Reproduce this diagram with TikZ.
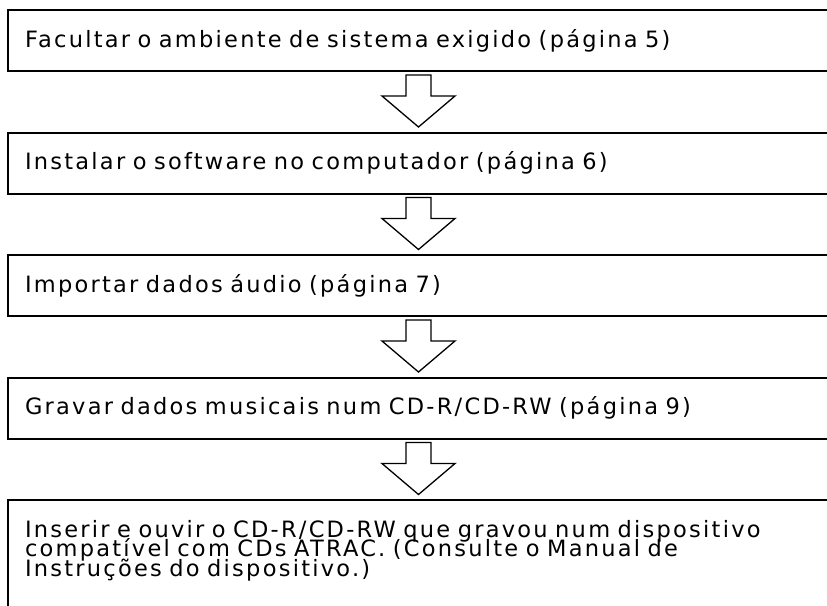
\documentclass[tikz,border=0pt]{standalone}
\usepackage{fontspec}
\setmainfont[LetterSpace=10]{DejaVu Sans}
\setlength{\lineskiplimit}{-50pt}
\newcommand{\boxfont}{\fontsize{22.5}{19.5}\selectfont}
\begin{document}
\begin{tikzpicture}[x=1pt,y=-1pt,
  boxstyle/.style={draw, line width=2pt, rectangle, anchor=north west,
    minimum width=833pt, minimum height=61pt, text width=799pt,
    inner xsep=17pt, inner ysep=0pt, align=left, font=\boxfont,
    execute at begin node={\setlength{\lineskiplimit}{-50pt}}},
  blockarrow/.pic={\draw[line width=1.3pt, line join=miter]
    (-12.5,3) -- (12.5,3) -- (12.5,24) -- (36.5,24) -- (0,55)
    -- (-36.5,24) -- (-12.5,24) -- cycle;}]
\path[use as bounding box] (0,0) rectangle (827,605);
\clip (0,0) rectangle (827,605);
\node[boxstyle] (b1) at (7,9) {Facultar o ambiente de sistema exigido (página 5)};
\node[boxstyle] (b2) at (7,131.5) {Instalar o software no computador (página 6)};
\node[boxstyle] (b3) at (7,254) {Importar dados áudio (página 7)};
\node[boxstyle] (b4) at (7,376.5) {Gravar dados musicais num CD-R/CD-RW (página 9)};
\node[boxstyle, minimum height=0pt] (b5) at (7,499) {\rule{0pt}{37pt}Inserir e ouvir o CD-R/CD-RW que gravou num dispositivo\\
compatível com CDs ATRAC. (Consulte o Manual de\\
Instruções do dispositivo.)\rule[-60pt]{0pt}{60pt}};
\pic at ([xshift=411.5pt]b1.south west) {blockarrow};
\pic at ([xshift=411.5pt]b2.south west) {blockarrow};
\pic at ([xshift=411.5pt]b3.south west) {blockarrow};
\pic at ([xshift=411.5pt]b4.south west) {blockarrow};
\end{tikzpicture}
\end{document}
